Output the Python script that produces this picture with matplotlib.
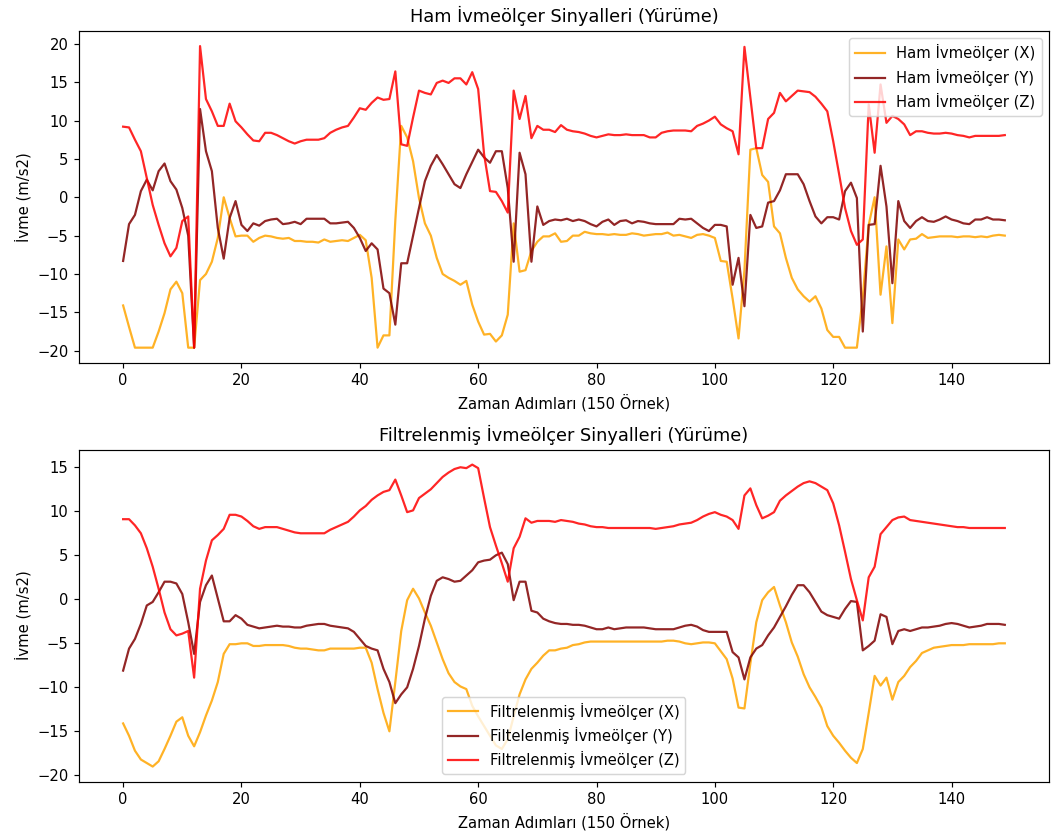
import numpy as np
import matplotlib
matplotlib.use("Agg")
import matplotlib.pyplot as plt

# ham (raw) ivmeolcer sinyalleri
raw_x = [-14.1, -16.9, -19.6, -19.6, -19.6, -19.6, -17.5, -15.1, -12.0, -11.0,
         -12.5, -19.6, -19.6, -10.8, -10.0, -8.4, -5.3, 0.0, -2.7, -5.1,
         -5.0, -5.0, -5.8, -5.3, -5.0, -5.1, -5.3, -5.4, -5.3, -5.7,
         -5.7, -5.8, -5.8, -5.9, -5.5, -5.8, -5.7, -5.6, -5.7, -5.3,
         -4.9, -5.6, -10.5, -19.6, -18.0, -18.0, -3.0, 9.3, 7.8, 4.7,
         -0.1, -3.4, -5.0, -7.9, -10.0, -10.5, -10.9, -11.4, -10.9, -14.0,
         -16.2, -17.9, -17.8, -18.8, -18.0, -15.3, -3.4, -9.7, -9.5, -7.0,
         -5.8, -5.1, -5.1, -4.7, -5.8, -5.7, -5.0, -5.0, -4.5, -4.7,
         -4.8, -4.8, -4.9, -4.8, -4.9, -4.9, -4.7, -4.8, -5.0, -4.9,
         -4.8, -4.8, -4.6, -5.0, -4.9, -5.1, -5.3, -4.9, -4.8, -5.0,
         -5.3, -8.3, -8.4, -13.2, -18.4, -9.5, 6.2, 6.4, 2.9, 2.0,
         -3.8, -4.7, -7.9, -10.5, -12.0, -12.9, -13.6, -12.9, -14.5, -17.3,
         -18.2, -18.2, -19.6, -19.6, -19.6, -13.0, -3.6, 0.0, -12.7, -6.4,
         -16.4, -5.5, -6.8, -5.5, -5.4, -4.8, -5.3, -5.2, -5.1, -5.1,
         -5.1, -5.2, -5.1, -5.1, -5.2, -5.1, -5.2, -5.0, -4.9, -5.0]

raw_y = [-8.3, -3.5, -2.3, 0.8, 2.3, 0.9, 3.4, 4.4, 2.1, 1.0,
         -1.4, -5.0, -19.6, 11.5, 6.0, 3.4, -4.0, -8.0, -2.7, -0.5,
         -3.6, -4.4, -3.4, -3.7, -3.1, -2.9, -2.8, -3.5, -3.4, -3.2,
         -3.5, -2.8, -2.8, -2.8, -2.8, -3.4, -3.4, -3.3, -3.2, -4.0,
         -5.3, -7.0, -6.0, -6.8, -11.9, -12.5, -16.6, -8.6, -8.6, -5.0,
         -1.4, 2.1, 4.1, 5.5, 4.3, 3.0, 1.7, 1.2, 3.0, 4.6,
         6.2, 5.2, 4.5, 6.0, 6.0, 1.2, -8.4, 5.8, 3.0, -8.4,
         -1.2, -3.6, -3.1, -2.9, -3.0, -2.8, -3.1, -2.9, -3.1, -3.5,
         -3.8, -3.2, -2.9, -3.6, -3.1, -3.0, -3.4, -3.1, -3.2, -3.4,
         -3.5, -3.5, -3.5, -3.5, -2.8, -2.9, -2.8, -3.4, -4.0, -4.4,
         -3.6, -3.6, -3.8, -11.4, -7.9, -14.2, -2.3, -4.0, -3.8, -0.7,
         -0.5, 0.9, 3.0, 3.0, 3.0, 1.7, -0.5, -2.5, -3.4, -2.6,
         -2.6, -2.9, 0.8, 1.9, -0.1, -17.5, -3.6, -3.5, 4.1, -1.2,
         -11.2, -0.5, -3.1, -4.0, -3.1, -2.6, -3.1, -3.2, -2.9, -2.5,
         -2.9, -3.1, -3.4, -3.5, -2.9, -2.9, -2.6, -2.9, -2.9, -3.0]

raw_z = [9.2, 9.1, 7.5, 6.0, 2.5, -1.0, -3.6, -6.0, -7.7, -6.6,
         -3.1, -2.5, -19.6, 19.7, 12.8, 11.2, 9.3, 9.3, 12.2, 9.9,
         9.1, 8.2, 7.4, 7.3, 8.4, 8.4, 8.1, 7.7, 7.3, 7.0,
         7.3, 7.5, 7.5, 7.5, 7.7, 8.4, 8.8, 9.1, 9.3, 10.4,
         11.6, 11.4, 12.3, 13.0, 12.7, 12.8, 16.4, 6.9, 6.7, 10.4,
         13.9, 13.6, 13.4, 14.9, 15.2, 14.9, 15.5, 15.5, 14.7, 16.3,
         14.1, 5.6, 0.8, 0.7, -0.5, -2.0, 13.9, 10.2, 13.2, 7.7,
         9.3, 8.8, 8.8, 8.5, 9.4, 8.8, 8.6, 8.5, 8.3, 8.0,
         7.8, 8.0, 8.2, 8.1, 8.1, 8.2, 8.1, 8.1, 8.1, 7.8,
         7.8, 8.4, 8.6, 8.7, 8.7, 8.7, 8.6, 9.3, 9.6, 10.0,
         10.5, 9.5, 9.0, 8.6, 5.6, 19.6, 13.0, 6.4, 6.4, 10.2,
         11.0, 13.6, 12.5, 13.2, 13.9, 13.8, 13.7, 13.1, 12.2, 11.2,
         7.3, 3.0, -1.4, -4.4, -6.2, -5.5, 12.1, 5.8, 14.7, 9.7,
         10.6, 10.2, 9.5, 8.1, 8.6, 8.6, 8.4, 8.3, 8.3, 8.4,
         8.3, 8.1, 8.0, 7.8, 8.0, 8.0, 8.0, 8.0, 8.0, 8.1]

# filtrelenmis sinyaller
filt_x = [-14.1, -15.5, -17.2, -18.2, -18.6, -19.0, -18.4, -17.0, -15.5, -13.9,
          -13.4, -15.5, -16.7, -15.1, -13.2, -11.5, -9.4, -6.2, -5.1, -5.1,
          -5.0, -5.0, -5.3, -5.3, -5.2, -5.2, -5.2, -5.2, -5.3, -5.5,
          -5.6, -5.6, -5.7, -5.8, -5.8, -5.6, -5.6, -5.6, -5.6, -5.6,
          -5.5, -5.5, -7.2, -10.2, -12.9, -15.0, -9.4, -3.6, -0.1, 1.2,
          0.1, -1.5, -3.0, -4.9, -6.8, -8.4, -9.4, -9.9, -10.2, -12.1,
          -13.3, -14.4, -15.5, -16.6, -17.0, -15.9, -13.3, -10.8, -9.1, -7.9,
          -7.2, -6.4, -5.8, -5.8, -5.6, -5.5, -5.2, -5.1, -4.9, -4.8,
          -4.8, -4.8, -4.8, -4.8, -4.8, -4.8, -4.8, -4.8, -4.8, -4.8,
          -4.8, -4.8, -4.7, -4.7, -4.8, -5.0, -5.1, -5.0, -4.9, -4.9,
          -5.0, -5.9, -6.8, -9.0, -12.3, -12.4, -7.3, -2.6, -0.1, 0.8,
          1.4, -0.7, -2.6, -4.9, -6.5, -8.5, -10.0, -11.1, -12.3, -14.4,
          -15.5, -16.3, -17.2, -18.0, -18.6, -17.0, -12.9, -8.7, -9.8, -8.9,
          -11.4, -9.4, -8.7, -7.7, -7.0, -6.1, -5.8, -5.5, -5.4, -5.3,
          -5.2, -5.2, -5.2, -5.1, -5.1, -5.1, -5.1, -5.1, -5.0, -5.0]

filt_y = [-8.1, -5.6, -4.5, -2.8, -0.7, -0.3, 0.8, 2.0, 2.0, 1.8,
          0.6, -2.6, -6.2, -0.3, 1.6, 2.7, 0.1, -2.5, -2.5, -1.8,
          -2.2, -2.9, -3.1, -3.3, -3.2, -3.1, -3.0, -3.1, -3.1, -3.2,
          -3.2, -3.0, -2.9, -2.8, -2.8, -3.0, -3.1, -3.2, -3.3, -3.7,
          -4.5, -5.3, -5.6, -5.8, -7.9, -9.4, -11.8, -10.8, -10.0, -7.9,
          -5.3, -2.2, 0.4, 2.1, 2.5, 2.3, 2.0, 2.1, 2.7, 3.3,
          4.2, 4.4, 4.5, 5.0, 5.3, 4.0, -0.1, 2.0, 2.0, -1.3,
          -1.5, -2.2, -2.5, -2.7, -2.8, -2.8, -2.9, -2.9, -3.0, -3.2,
          -3.4, -3.4, -3.2, -3.4, -3.3, -3.2, -3.2, -3.2, -3.2, -3.3,
          -3.4, -3.4, -3.4, -3.4, -3.2, -3.0, -2.9, -3.1, -3.5, -3.7,
          -3.7, -3.7, -3.7, -6.0, -6.6, -9.1, -6.6, -5.6, -5.2, -4.1,
          -3.2, -2.0, -0.8, 0.5, 1.6, 1.6, 0.8, -0.3, -1.4, -1.8,
          -2.0, -2.2, -1.1, -0.2, -0.3, -5.8, -5.3, -4.7, -1.7, -2.0,
          -5.1, -3.6, -3.4, -3.6, -3.4, -3.2, -3.2, -3.1, -3.0, -2.8,
          -2.7, -2.8, -3.0, -3.2, -3.1, -3.0, -2.8, -2.8, -2.8, -2.9]

filt_z = [9.1, 9.1, 8.4, 7.5, 5.8, 3.7, 1.2, -1.5, -3.4, -4.1,
          -3.9, -3.6, -8.9, 1.2, 4.4, 6.7, 7.3, 8.0, 9.6, 9.6,
          9.4, 8.9, 8.3, 8.0, 8.2, 8.2, 8.2, 8.0, 7.8, 7.6,
          7.5, 7.5, 7.5, 7.5, 7.5, 7.9, 8.2, 8.5, 8.8, 9.4,
          10.1, 10.6, 11.3, 11.8, 12.2, 12.4, 13.6, 11.8, 9.9, 10.1,
          11.5, 12.0, 12.5, 13.2, 13.9, 14.4, 14.8, 15.0, 14.9, 15.3,
          14.9, 11.5, 8.2, 6.1, 4.1, 2.0, 5.8, 7.1, 9.2, 8.7,
          8.9, 8.9, 8.9, 8.8, 9.0, 8.9, 8.8, 8.6, 8.5, 8.3,
          8.2, 8.2, 8.1, 8.1, 8.1, 8.1, 8.1, 8.1, 8.1, 8.1,
          8.0, 8.1, 8.2, 8.3, 8.5, 8.6, 8.7, 9.0, 9.4, 9.7,
          9.9, 9.6, 9.4, 9.0, 8.0, 11.8, 12.6, 10.7, 9.2, 9.5,
          9.9, 11.2, 11.8, 12.3, 12.8, 13.2, 13.4, 13.2, 12.8, 12.4,
          10.9, 8.4, 5.4, 2.3, -0.1, -2.4, 2.5, 3.7, 7.4, 8.2,
          9.0, 9.3, 9.4, 9.0, 8.9, 8.8, 8.7, 8.6, 8.5, 8.4,
          8.3, 8.2, 8.2, 8.1, 8.1, 8.1, 8.1, 8.1, 8.1, 8.1]

t = np.arange(len(raw_x))

raw_labels = ["Ham İvmeölçer (X)", "Ham İvmeölçer (Y)", "Ham İvmeölçer (Z)"]
filt_labels = ["Filtrelenmiş İvmeölçer (X)", "Filtelenmiş İvmeölçer (Y)",
               "Filtrelenmiş İvmeölçer (Z)"]
colors = ["orange", "maroon", "red"]

DPI = 106.5
fig = plt.figure(figsize=(1051 / DPI, 836 / DPI), dpi=DPI)
ax1 = fig.add_axes([0.0752, 0.5661, 0.9228, 0.3968])
ax2 = fig.add_axes([0.0752, 0.0650, 0.9228, 0.3973])

for data, lab, c in zip([raw_x, raw_y, raw_z], raw_labels, colors):
    ax1.plot(t, data, label=lab, color=c, alpha=0.85)
ax1.set_title("Ham İvmeölçer Sinyalleri (Yürüme)")
ax1.set_xlabel("Zaman Adımları (150 Örnek)")
ax1.set_ylabel("İvme (m/s2)")
ax1.legend(loc="upper right")

for data, lab, c in zip([filt_x, filt_y, filt_z], filt_labels, colors):
    ax2.plot(t, data, label=lab, color=c, alpha=0.85)
ax2.set_title("Filtrelenmiş İvmeölçer Sinyalleri (Yürüme)")
ax2.set_xlabel("Zaman Adımları (150 Örnek)")
ax2.set_ylabel("İvme (m/s2)")
ax2.legend(loc="lower center")

fig.savefig("out.png", dpi=DPI)
